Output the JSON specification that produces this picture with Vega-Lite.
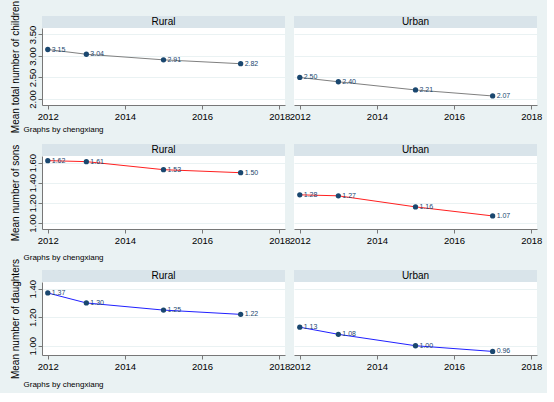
{
  "$schema": "https://vega.github.io/schema/vega-lite/v6.json",
  "background": "#eaf2f3",
  "padding": {"left": 10, "top": 0, "right": 5, "bottom": 5},
  "datasets": {
    "fert": [
      {"measure": "children", "area": "Rural", "year": 2012, "value": 3.15},
      {"measure": "children", "area": "Rural", "year": 2013, "value": 3.04},
      {"measure": "children", "area": "Rural", "year": 2015, "value": 2.91},
      {"measure": "children", "area": "Rural", "year": 2017, "value": 2.82},
      {"measure": "children", "area": "Urban", "year": 2012, "value": 2.50},
      {"measure": "children", "area": "Urban", "year": 2013, "value": 2.40},
      {"measure": "children", "area": "Urban", "year": 2015, "value": 2.21},
      {"measure": "children", "area": "Urban", "year": 2017, "value": 2.07},
      {"measure": "sons", "area": "Rural", "year": 2012, "value": 1.62},
      {"measure": "sons", "area": "Rural", "year": 2013, "value": 1.61},
      {"measure": "sons", "area": "Rural", "year": 2015, "value": 1.53},
      {"measure": "sons", "area": "Rural", "year": 2017, "value": 1.50},
      {"measure": "sons", "area": "Urban", "year": 2012, "value": 1.28},
      {"measure": "sons", "area": "Urban", "year": 2013, "value": 1.27},
      {"measure": "sons", "area": "Urban", "year": 2015, "value": 1.16},
      {"measure": "sons", "area": "Urban", "year": 2017, "value": 1.07},
      {"measure": "daughters", "area": "Rural", "year": 2012, "value": 1.37},
      {"measure": "daughters", "area": "Rural", "year": 2013, "value": 1.30},
      {"measure": "daughters", "area": "Rural", "year": 2015, "value": 1.25},
      {"measure": "daughters", "area": "Rural", "year": 2017, "value": 1.22},
      {"measure": "daughters", "area": "Urban", "year": 2012, "value": 1.13},
      {"measure": "daughters", "area": "Urban", "year": 2013, "value": 1.08},
      {"measure": "daughters", "area": "Urban", "year": 2015, "value": 1.00},
      {"measure": "daughters", "area": "Urban", "year": 2017, "value": 0.96}
    ]
  },
  "columns": 2,
  "spacing": {"row": 0, "column": 9},
  "bounds": "flush",
  "concat": [
    {
      "width": 243, "height": 12,
      "view": {"fill": "#d9e4ea", "stroke": null},
      "data": {"values": [{"label": "Rural"}]},
      "mark": {"type": "text", "fontSize": 10, "color": "#000"},
      "encoding": {"text": {"field": "label"}}
    },
    {
      "width": 243, "height": 12,
      "view": {"fill": "#d9e4ea", "stroke": null},
      "data": {"values": [{"label": "Urban"}]},
      "mark": {"type": "text", "fontSize": 10, "color": "#000"},
      "encoding": {"text": {"field": "label"}}
    },
    {
      "width": 243, "height": 77,
      "view": {"fill": "white", "stroke": null},
      "data": {"name": "fert"},
      "transform": [{"filter": "datum.measure == 'children' && datum.area == 'Rural'"}],
      "encoding": {
        "x": {"field": "year", "type": "quantitative", "scale": {"domain": [2011.85, 2018.15], "nice": false, "zero": false},
          "axis": {"values": [2012, 2014, 2016, 2018], "format": "d", "grid": false, "title": "Graphs by chengxiang", "titleX": -19, "titleY": 24, "titleAnchor": "start", "titleAlign": "left", "titleBaseline": "middle", "titleFontSize": 8}},
        "y": {"field": "value", "type": "quantitative", "scale": {"domain": [1.86, 3.65], "nice": false, "zero": false},
          "axis": {"values": [2, 2.5, 3, 3.5], "format": ".2f", "title": "Mean total number of children"}}
      },
      "layer": [
        {"mark": {"type": "line", "color": "#808080", "strokeWidth": 1}},
        {"mark": {"type": "point", "filled": true, "opacity": 1, "size": 28, "color": "#1a476f"}},
        {"mark": {"type": "text", "align": "left", "dx": 4, "fontSize": 7, "color": "#1a476f"},
          "encoding": {"text": {"field": "value", "type": "quantitative", "format": ".2f"}}}
      ]
    },
    {
      "width": 243, "height": 77,
      "view": {"fill": "white", "stroke": null},
      "data": {"name": "fert"},
      "transform": [{"filter": "datum.measure == 'children' && datum.area == 'Urban'"}],
      "encoding": {
        "x": {"field": "year", "type": "quantitative", "scale": {"domain": [2011.85, 2018.15], "nice": false, "zero": false},
          "axis": {"values": [2012, 2014, 2016, 2018], "format": "d", "grid": false, "title": null}},
        "y": {"field": "value", "type": "quantitative", "scale": {"domain": [1.86, 3.65], "nice": false, "zero": false},
          "axis": {"values": [2, 2.5, 3, 3.5], "labels": false, "ticks": false, "domain": false, "title": null}}
      },
      "layer": [
        {"mark": {"type": "line", "color": "#808080", "strokeWidth": 1}},
        {"mark": {"type": "point", "filled": true, "opacity": 1, "size": 28, "color": "#1a476f"}},
        {"mark": {"type": "text", "align": "left", "dx": 4, "fontSize": 7, "color": "#1a476f"},
          "encoding": {"text": {"field": "value", "type": "quantitative", "format": ".2f"}}}
      ]
    },
    {"width": 243, "height": 39, "data": {"values": []}, "mark": "point"},
    {"width": 243, "height": 39, "data": {"values": []}, "mark": "point"},
    {
      "width": 243, "height": 12,
      "view": {"fill": "#d9e4ea", "stroke": null},
      "data": {"values": [{"label": "Rural"}]},
      "mark": {"type": "text", "fontSize": 10, "color": "#000"},
      "encoding": {"text": {"field": "label"}}
    },
    {
      "width": 243, "height": 12,
      "view": {"fill": "#d9e4ea", "stroke": null},
      "data": {"values": [{"label": "Urban"}]},
      "mark": {"type": "text", "fontSize": 10, "color": "#000"},
      "encoding": {"text": {"field": "label"}}
    },
    {
      "width": 243, "height": 73,
      "view": {"fill": "white", "stroke": null},
      "data": {"name": "fert"},
      "transform": [{"filter": "datum.measure == 'sons' && datum.area == 'Rural'"}],
      "encoding": {
        "x": {"field": "year", "type": "quantitative", "scale": {"domain": [2011.85, 2018.15], "nice": false, "zero": false},
          "axis": {"values": [2012, 2014, 2016, 2018], "format": "d", "grid": false, "title": "Graphs by chengxiang", "titleX": -19, "titleY": 28, "titleAnchor": "start", "titleAlign": "left", "titleBaseline": "middle", "titleFontSize": 8}},
        "y": {"field": "value", "type": "quantitative", "scale": {"domain": [0.94, 1.666], "nice": false, "zero": false},
          "axis": {"values": [1, 1.2, 1.4, 1.6], "format": ".2f", "title": "Mean number of sons"}}
      },
      "layer": [
        {"mark": {"type": "line", "color": "#ff2020", "strokeWidth": 1}},
        {"mark": {"type": "point", "filled": true, "opacity": 1, "size": 28, "color": "#1a476f"}},
        {"mark": {"type": "text", "align": "left", "dx": 4, "fontSize": 7, "color": "#1a476f"},
          "encoding": {"text": {"field": "value", "type": "quantitative", "format": ".2f"}}}
      ]
    },
    {
      "width": 243, "height": 73,
      "view": {"fill": "white", "stroke": null},
      "data": {"name": "fert"},
      "transform": [{"filter": "datum.measure == 'sons' && datum.area == 'Urban'"}],
      "encoding": {
        "x": {"field": "year", "type": "quantitative", "scale": {"domain": [2011.85, 2018.15], "nice": false, "zero": false},
          "axis": {"values": [2012, 2014, 2016, 2018], "format": "d", "grid": false, "title": null}},
        "y": {"field": "value", "type": "quantitative", "scale": {"domain": [0.94, 1.666], "nice": false, "zero": false},
          "axis": {"values": [1, 1.2, 1.4, 1.6], "labels": false, "ticks": false, "domain": false, "title": null}}
      },
      "layer": [
        {"mark": {"type": "line", "color": "#ff2020", "strokeWidth": 1}},
        {"mark": {"type": "point", "filled": true, "opacity": 1, "size": 28, "color": "#1a476f"}},
        {"mark": {"type": "text", "align": "left", "dx": 4, "fontSize": 7, "color": "#1a476f"},
          "encoding": {"text": {"field": "value", "type": "quantitative", "format": ".2f"}}}
      ]
    },
    {"width": 243, "height": 41, "data": {"values": []}, "mark": "point"},
    {"width": 243, "height": 41, "data": {"values": []}, "mark": "point"},
    {
      "width": 243, "height": 12,
      "view": {"fill": "#d9e4ea", "stroke": null},
      "data": {"values": [{"label": "Rural"}]},
      "mark": {"type": "text", "fontSize": 10, "color": "#000"},
      "encoding": {"text": {"field": "label"}}
    },
    {
      "width": 243, "height": 12,
      "view": {"fill": "#d9e4ea", "stroke": null},
      "data": {"values": [{"label": "Urban"}]},
      "mark": {"type": "text", "fontSize": 10, "color": "#000"},
      "encoding": {"text": {"field": "label"}}
    },
    {
      "width": 243, "height": 73,
      "view": {"fill": "white", "stroke": null},
      "data": {"name": "fert"},
      "transform": [{"filter": "datum.measure == 'daughters' && datum.area == 'Rural'"}],
      "encoding": {
        "x": {"field": "year", "type": "quantitative", "scale": {"domain": [2011.85, 2018.15], "nice": false, "zero": false},
          "axis": {"values": [2012, 2014, 2016, 2018], "format": "d", "grid": false, "title": "Graphs by chengxiang", "titleX": -19, "titleY": 29, "titleAnchor": "start", "titleAlign": "left", "titleBaseline": "middle", "titleFontSize": 8}},
        "y": {"field": "value", "type": "quantitative", "scale": {"domain": [0.935, 1.447], "nice": false, "zero": false},
          "axis": {"values": [1, 1.2, 1.4], "format": ".2f", "title": "Mean number of daughters"}}
      },
      "layer": [
        {"mark": {"type": "line", "color": "#2020ff", "strokeWidth": 1}},
        {"mark": {"type": "point", "filled": true, "opacity": 1, "size": 28, "color": "#1a476f"}},
        {"mark": {"type": "text", "align": "left", "dx": 4, "fontSize": 7, "color": "#1a476f"},
          "encoding": {"text": {"field": "value", "type": "quantitative", "format": ".2f"}}}
      ]
    },
    {
      "width": 243, "height": 73,
      "view": {"fill": "white", "stroke": null},
      "data": {"name": "fert"},
      "transform": [{"filter": "datum.measure == 'daughters' && datum.area == 'Urban'"}],
      "encoding": {
        "x": {"field": "year", "type": "quantitative", "scale": {"domain": [2011.85, 2018.15], "nice": false, "zero": false},
          "axis": {"values": [2012, 2014, 2016, 2018], "format": "d", "grid": false, "title": null}},
        "y": {"field": "value", "type": "quantitative", "scale": {"domain": [0.935, 1.447], "nice": false, "zero": false},
          "axis": {"values": [1, 1.2, 1.4], "labels": false, "ticks": false, "domain": false, "title": null}}
      },
      "layer": [
        {"mark": {"type": "line", "color": "#2020ff", "strokeWidth": 1}},
        {"mark": {"type": "point", "filled": true, "opacity": 1, "size": 28, "color": "#1a476f"}},
        {"mark": {"type": "text", "align": "left", "dx": 4, "fontSize": 7, "color": "#1a476f"},
          "encoding": {"text": {"field": "value", "type": "quantitative", "format": ".2f"}}}
      ]
    }
  ],
  "config": {
    "font": "Liberation Sans",
    "view": {"stroke": null},
    "axis": {
      "labelFontSize": 9.5,
      "labelColor": "#000",
      "labelFlush": false,
      "labelOverlap": false,
      "domainColor": "#777",
      "tickColor": "#777",
      "tickSize": 4,
      "labelPadding": 2,
      "gridColor": "#eaf2f3",
      "gridWidth": 1,
      "titleColor": "#000",
      "titleFontWeight": "normal"
    },
    "axisY": {
      "grid": true,
      "labelAngle": -90,
      "labelAlign": "center",
      "labelBaseline": "bottom",
      "labelPadding": 1,
      "titleFontSize": 10,
      "titlePadding": 7
    }
  }
}
